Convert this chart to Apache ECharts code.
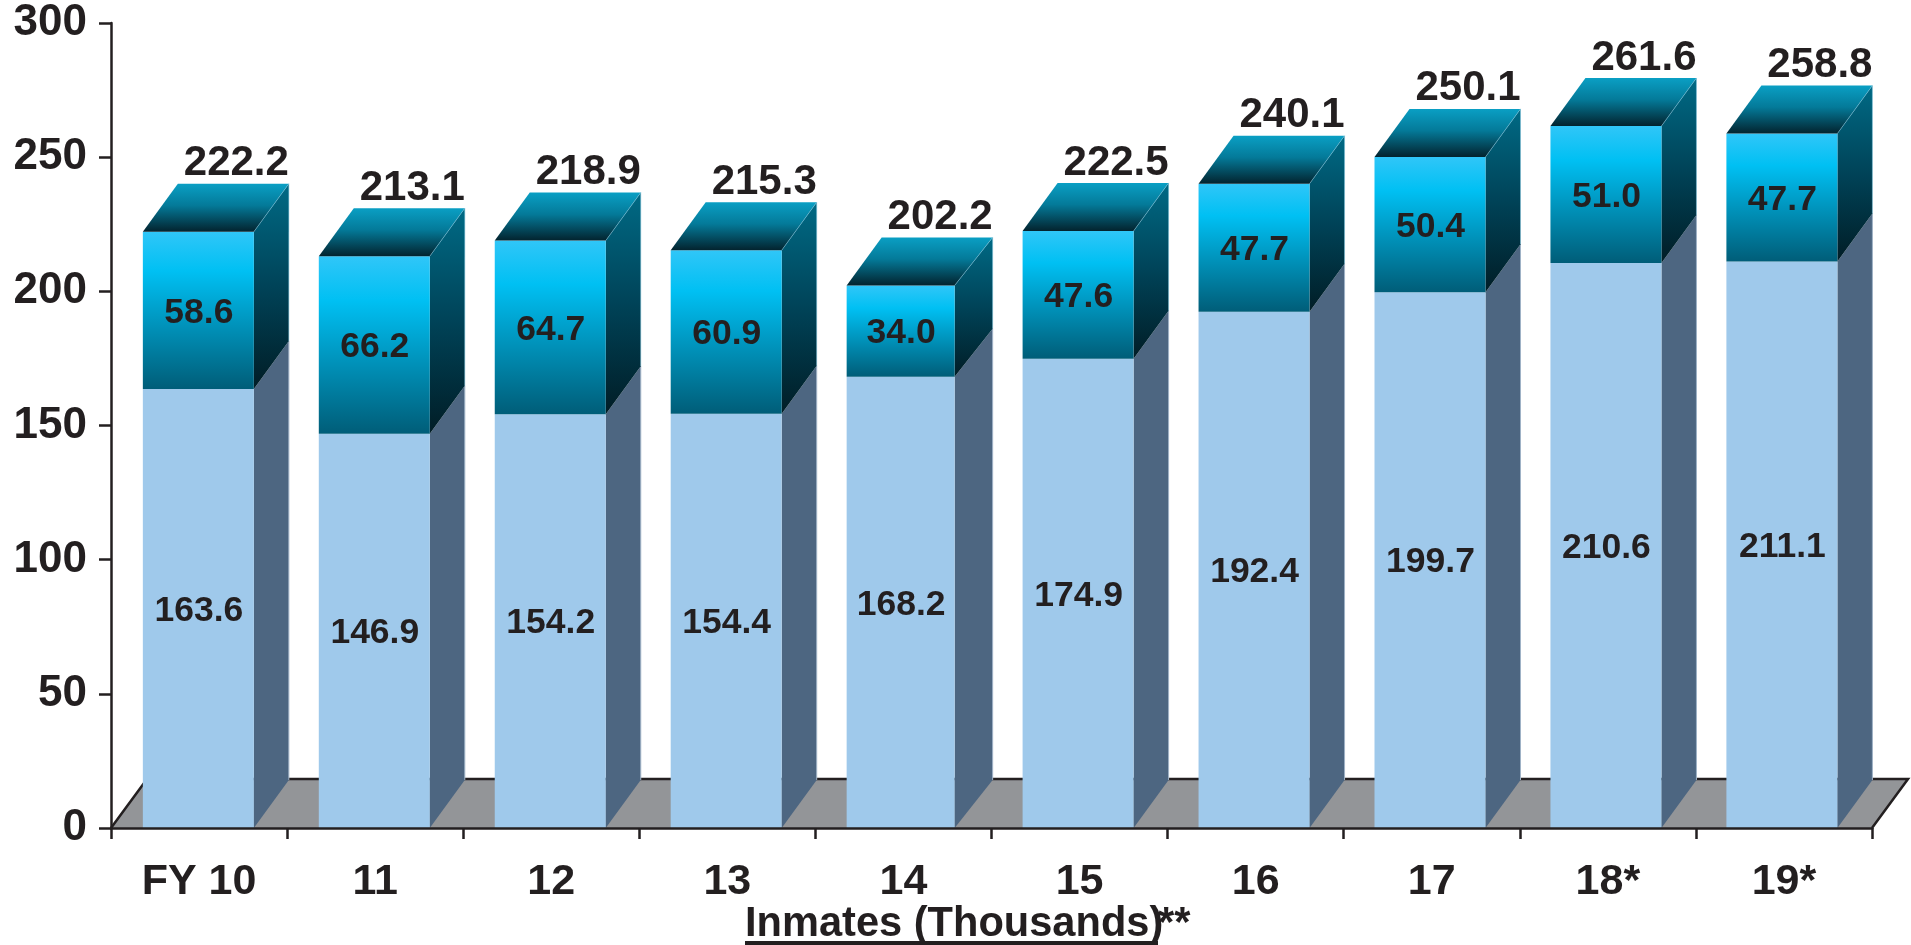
<!DOCTYPE html>
<html><head><meta charset="utf-8">
<style>html,body{margin:0;padding:0;background:#fff}#c{width:1911px;height:945px}</style>
<script src="https://cdn.jsdelivr.net/npm/echarts@6/dist/echarts.min.js"></script>
</head><body><div id="c"></div>
<script>
const categories = ['FY 10','11','12','13','14','15','16','17','18*','19*'];
const lowerValues = [163.6,146.9,154.2,154.4,168.2,174.9,192.4,199.7,210.6,211.1];
const upperValues = [58.6,66.2,64.7,60.9,34.0,47.6,47.7,50.4,51.0,47.7];
const totalValues = [222.2,213.1,218.9,215.3,202.2,222.5,240.1,250.1,261.6,258.8];
const yTicks = [0,50,100,150,200,250,300];
const xTitle = 'Inmates (Thousands)';
const xTitleSuffix = '**';

const INK = '#231f20', FONT = '"Liberation Sans", Arial, sans-serif';
const BAR_W = 111, DX = 35, DY = 48;
const lg = (stops) => ({type:'linear',x:0,y:0,x2:0,y2:1,colorStops:stops});
const frontGrad = lg([{offset:0,color:'#30c6f8'},{offset:.25,color:'#00c0f3'},{offset:1,color:'#005d78'}]);
const sideGrad = lg([{offset:0,color:'#006a85'},{offset:.5,color:'#004358'},{offset:1,color:'#011d26'}]);
const topGrad = lg([{offset:0,color:'#0a9fc4'},{offset:.45,color:'#047a99'},{offset:1,color:'#03232e'}]);

function cube(x0,x1,xb,yTop,yBot,front,side,edge){
  return [
    {type:'polygon',shape:{points:[[x1,yTop],[xb,yTop-DY],[xb,yBot-DY],[x1,yBot]]},style:{fill:side}},
    {type:'rect',shape:{x:x0,y:yTop,width:x1-x0,height:yBot-yTop},style:{fill:front}},
    {type:'polyline',shape:{points:[[xb,yTop-DY],[xb,yBot-DY]]},style:{fill:null,stroke:edge,lineWidth:1}}
  ];
}
function renderBar(params,api){
  const i = api.value(0);
  const c = api.coord([i,0]);
  const xm = c[0]-0.7-i*0.15, x0 = xm-BAR_W/2;
  // the fifth column is drawn a little narrower in front and deeper at the side
  const x1 = i===4 ? x0+108 : x0+BAR_W, xb = x0+BAR_W+DX;
  const cx = (x0+x1)/2;
  const y0 = c[1];
  const yL = api.coord([i,api.value(1)])[1];
  const yT = api.coord([i,api.value(1)+api.value(2)])[1];
  const kids = [
    ...cube(x0,x1,xb,yL,y0,'#9fc9eb','#4d6681','#9fb2c6'),
    ...cube(x0,x1,xb,yT,yL,frontGrad,sideGrad,'rgba(120,190,215,.55)'),
    {type:'polygon',shape:{points:[[x0,yT],[x0+DX,yT-DY],[xb,yT-DY],[x1,yT]]},style:{fill:topGrad}},
    {type:'polyline',shape:{points:[[x1,yT],[xb,yT-DY]]},style:{fill:null,stroke:'rgba(120,190,215,.55)',lineWidth:1}},
    {type:'text',style:{text:api.value(1).toFixed(1),x:cx+0.5,y:(yL+y0)/2+2.5,align:'center',verticalAlign:'middle',font:'bold 35.5px '+FONT,fill:INK}},
    {type:'text',style:{text:api.value(2).toFixed(1),x:cx+0.5,y:(yT+yL)/2+2.5,align:'center',verticalAlign:'middle',font:'bold 35.5px '+FONT,fill:INK}},
    {type:'text',style:{text:api.value(3).toFixed(1),x:xm+38,y:yT-DY-20,align:'center',verticalAlign:'middle',font:'bold 42px '+FONT,fill:INK}}
  ];
  return {type:'group',children:kids};
}
function renderFloor(params,api){
  const cs = params.coordSys;
  const yb = cs.y+cs.height, xl = cs.x, xr = cs.x+cs.width;
  const pts = [[xl,yb],[xl+DX+1,yb-DY-1],[xr+DX+1,yb-DY-1],[xr,yb]];
  return {type:'group',children:[
    {type:'polygon',shape:{points:pts},style:{fill:'#939598'}},
    {type:'polyline',shape:{points:pts},style:{fill:null,stroke:INK,lineWidth:2.5}}
  ]};
}

const chart = echarts.init(document.getElementById('c'),null,{renderer:'canvas'});
chart.setOption({
  animation:false,
  backgroundColor:'#fff',
  grid:{left:111,top:23,width:1761,height:805,containLabel:false},
  xAxis:{type:'category',data:categories,z:10,
    axisLine:{lineStyle:{color:INK,width:2.5}},
    axisTick:{show:true,length:11,lineStyle:{color:INK,width:2.5}},
    axisLabel:{margin:33,interval:0,color:INK,fontFamily:FONT,fontWeight:'bold',fontSize:43,lineHeight:43},
    splitLine:{show:false}},
  yAxis:{type:'value',min:yTicks[0],max:yTicks[yTicks.length-1],interval:yTicks[1]-yTicks[0],z:10,
    axisLine:{show:true,lineStyle:{color:INK,width:2.5}},
    axisTick:{show:true,length:12,lineStyle:{color:INK,width:2.5}},
    axisLabel:{margin:24,color:INK,fontFamily:FONT,fontWeight:'bold',fontSize:44,padding:[7,0,0,0]},
    splitLine:{show:false}},
  graphic:[
    {type:'text',left:745,top:904,z:20,style:{text:xTitle,font:'bold 41.6px '+FONT,fill:INK}},
    {type:'text',left:1158,top:904,z:20,style:{text:xTitleSuffix,font:'bold 41.6px '+FONT,fill:INK}},
    {type:'rect',left:745,top:941,z:20,shape:{width:413,height:4},style:{fill:INK}}
  ],
  series:[
    {type:'custom',name:'floor',coordinateSystem:'cartesian2d',z:1,clip:false,data:[[0,0]],renderItem:renderFloor,silent:true},
    {type:'custom',name:'Inmates',coordinateSystem:'cartesian2d',z:2,clip:false,
      encode:{x:0,y:1},renderItem:renderBar,
      data:categories.map((_,i)=>[i,lowerValues[i],upperValues[i],totalValues[i]])}
  ]
});
</script></body></html>
